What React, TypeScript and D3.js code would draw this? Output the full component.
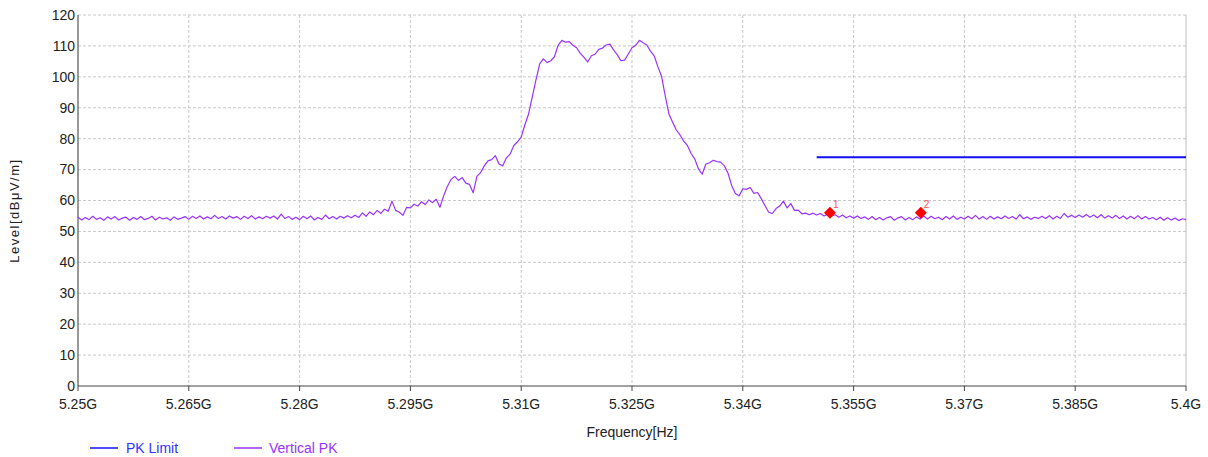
import React from "react";
import * as d3 from "d3";

// Sweep: 5250 MHz to 5400 MHz, 0.5 MHz steps
const START_MHZ = 5250;
const STEP_MHZ = 0.5;

const verticalPK: number[] = [
  54.6, 53.7, 54.5, 53.8, 54.9, 53.9, 54.4, 53.6, 54.7, 54.0,
  54.8, 53.7, 54.3, 54.6, 53.6, 54.5, 53.9, 54.8, 53.8, 54.2,
  54.9, 53.7, 54.6, 54.0, 54.4, 53.6, 54.7, 53.9, 54.3, 54.8,
  53.9, 54.9, 54.2, 55.0, 54.0, 54.7, 54.1, 55.2, 54.2, 54.8,
  54.0, 55.0, 54.3, 54.8, 53.9, 54.9, 54.2, 55.1, 54.0, 54.7,
  54.1, 54.9, 54.3, 55.0, 54.0, 55.6, 54.2, 54.8, 53.9, 54.6,
  53.8, 54.9, 54.1, 55.0, 53.7, 54.5, 53.9, 55.3, 54.1, 54.8,
  54.0, 54.9, 54.3, 55.1, 54.4, 55.2, 54.5, 56.0, 54.9, 56.3,
  55.4, 56.8, 55.8, 57.2, 56.5, 59.8, 56.8, 56.2, 55.2, 57.8,
  57.6, 58.8, 58.2, 59.6, 58.7, 60.2, 59.3, 60.4, 57.8, 61.5,
  64.5, 66.8, 67.8, 66.5, 67.4, 65.6, 65.2, 62.5, 67.8, 69.0,
  71.2, 72.8, 73.2, 74.5, 71.8, 71.2, 73.8, 75.0, 77.8, 79.0,
  80.5, 84.5, 88.0, 93.5, 99.0, 104.2, 105.8, 104.6, 105.2, 106.5,
  110.2, 111.8, 111.2, 111.4, 110.2, 109.4, 107.6, 106.3, 104.8, 106.8,
  107.3, 108.9, 109.3, 110.3, 110.6, 108.7, 107.2, 105.2, 105.4, 107.4,
  109.4, 110.2, 111.8, 111.0, 110.3, 108.3, 106.8, 103.3, 100.2, 93.8,
  88.0, 85.3, 82.8, 81.2, 79.2, 77.8, 75.2, 73.4, 70.2, 68.5,
  71.8, 72.2, 73.0, 72.6, 72.4, 71.2, 68.8, 64.8, 62.3, 61.5,
  63.8, 63.6, 64.2, 62.3, 62.6, 60.6, 58.4, 56.2, 55.8, 57.4,
  58.2, 59.8, 57.6, 59.0, 56.8, 56.9, 55.7, 55.9, 55.4, 55.9,
  55.3, 55.8, 55.0, 55.6, 54.9, 55.4, 54.6, 55.3, 54.4, 55.0,
  54.3, 55.0, 54.2, 54.7, 53.9, 54.8, 53.8, 54.5, 53.7, 54.4,
  54.8, 53.6, 54.4, 54.8, 53.7, 54.5, 53.8, 54.7, 54.0, 55.0,
  54.0, 54.9, 54.1, 54.6, 53.8, 54.8, 54.0, 55.0, 53.9, 54.6,
  54.0, 54.9, 54.1, 55.2, 54.0, 54.8, 53.9, 54.9, 54.0, 54.7,
  54.1, 55.0, 54.2, 54.8, 54.0, 55.4, 54.1, 54.7, 53.9, 54.6,
  54.2, 54.9, 54.2, 55.1, 54.0, 54.9, 54.2, 55.8, 54.6, 55.2,
  54.5, 55.3, 54.6, 55.5, 54.6, 55.3, 54.4, 55.4, 54.3, 55.1,
  54.3, 55.2, 54.2, 55.0, 54.0, 54.9, 54.1, 55.1, 54.0, 54.8,
  54.0, 54.5, 53.8, 54.6, 53.6, 54.4, 53.7, 54.3, 53.5, 54.1, 53.8,
];

const limitFreqs = [5350, 5400];
const limitLevels = [74, 74];

const markerIds = ["1", "2"];
const markerFreqs = [5351.8, 5364.1];
const markerLevels = [56, 56];

const xTickValues = [5250, 5265, 5280, 5295, 5310, 5325, 5340, 5355, 5370, 5385, 5400];
const xTickLabels = ["5.25G", "5.265G", "5.28G", "5.295G", "5.31G", "5.325G", "5.34G", "5.355G", "5.37G", "5.385G", "5.4G"];
const yTickValues = [0, 10, 20, 30, 40, 50, 60, 70, 80, 90, 100, 110, 120];

const W = 1208;
const H = 457;
const L = 78, R = 1186, T = 15, B = 386;
const FONT = "'Liberation Sans', Arial, sans-serif";

export default function App() {
  const x = d3.scaleLinear().domain([5250, 5400]).range([L, R]);
  const y = d3.scaleLinear().domain([0, 120]).range([B, T]);

  const traceData = verticalPK.map((v, i) => [START_MHZ + i * STEP_MHZ, v] as [number, number]);
  const line = d3.line<[number, number]>().x((d) => x(d[0])).y((d) => y(d[1]));
  const limitData = limitFreqs.map((f, i) => [f, limitLevels[i]] as [number, number]);

  return (
    <svg width={W} height={H} style={{ position: "absolute", left: 0, top: 0, background: "#fff" }}>
      {yTickValues.filter((v) => v > 0).map((v) => (
        <line key={"gy" + v} x1={L} x2={R} y1={y(v)} y2={y(v)} stroke="#c8c8c8" strokeDasharray="3,2" />
      ))}
      {xTickValues.slice(1, -1).map((v) => (
        <line key={"gx" + v} x1={x(v)} x2={x(v)} y1={T} y2={B} stroke="#c8c8c8" strokeDasharray="3,2" />
      ))}
      <line x1={R} x2={R} y1={T} y2={B} stroke="#bdbdbd" />
      <line x1={L} x2={L} y1={T} y2={B} stroke="#555" strokeWidth={1.2} />
      <line x1={L} x2={R} y1={B} y2={B} stroke="#444" strokeWidth={1.2} />
      {xTickValues.map((v) => (
        <line key={"xt" + v} x1={x(v)} x2={x(v)} y1={B} y2={B + 5} stroke="#444" />
      ))}
      {yTickValues.map((v) => (
        <text key={"yl" + v} x={L - 3} y={y(v)} dy="0.35em" textAnchor="end" fontFamily={FONT} fontSize={14} fill="#222">
          {v}
        </text>
      ))}
      {xTickValues.map((v, i) => (
        <text key={"xl" + v} x={x(v)} y={B + 23} textAnchor="middle" fontFamily={FONT} fontSize={14} fill="#222">
          {xTickLabels[i]}
        </text>
      ))}
      <text x={632} y={437} textAnchor="middle" fontFamily={FONT} fontSize={14} fill="#222">Frequency[Hz]</text>
      <text transform={`translate(19,${(T + B) / 2 + 10}) rotate(-90)`} textAnchor="middle" fontFamily={FONT} fontSize={13} letterSpacing={1.5} fill="#222">
        Level[dBμV/m]
      </text>

      <path d={line(limitData) || ""} fill="none" stroke="#1010f0" strokeWidth={2} />
      <path d={line(traceData) || ""} fill="none" stroke="#9933ff" strokeWidth={1.2} strokeLinejoin="round" />

      {markerFreqs.map((f, i) => {
        const cx = x(f), cy = y(markerLevels[i]);
        return (
          <g key={"m" + i}>
            <path d={`M${cx},${cy - 6}L${cx + 6},${cy}L${cx},${cy + 6}L${cx - 6},${cy}Z`} fill="#ff0000" />
            <text x={cx + 3} y={cy - 5} fontFamily={FONT} fontSize={10} fill="#ff5050">{markerIds[i]}</text>
          </g>
        );
      })}

      <line x1={90} x2={118} y1={448} y2={448} stroke="#1010f0" strokeWidth={1.5} />
      <text x={126} y={453} fontFamily={FONT} fontSize={14} fill="#3333ff">PK Limit</text>
      <line x1={234} x2={262} y1={448} y2={448} stroke="#9933ff" strokeWidth={1.5} />
      <text x={269} y={453} fontFamily={FONT} fontSize={14} fill="#9933ff">Vertical PK</text>
    </svg>
  );
}
